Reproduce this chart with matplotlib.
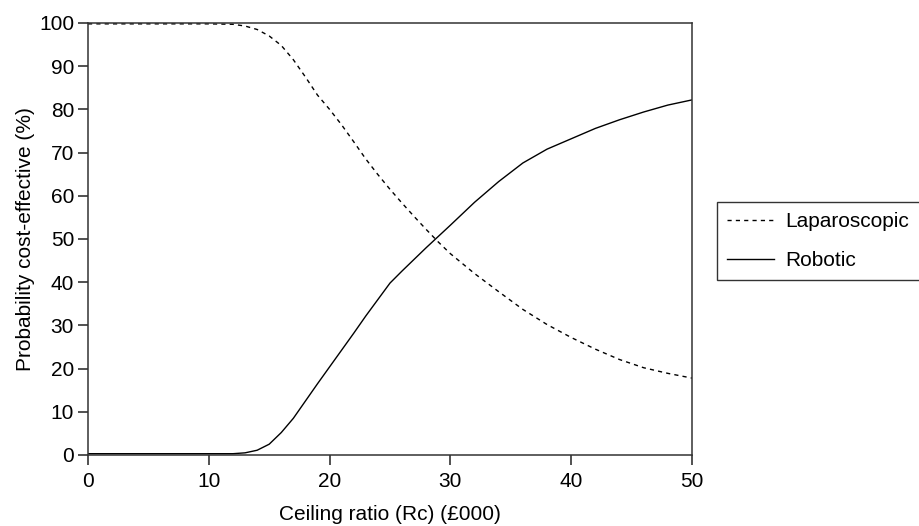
import matplotlib
matplotlib.use("Agg")
import matplotlib.pyplot as plt

# ceiling ratio (£000)
ceiling = [0, 5, 10, 12, 13, 14, 15, 16, 17, 18, 19, 20, 21, 22, 23, 24, 25,
           26, 27, 28, 29, 30, 32, 34, 36, 38, 40, 42, 44, 46, 48, 50]

# probability cost-effective (%)
laparoscopic = [99.8, 99.8, 99.8, 99.7, 99.3, 98.5, 97.0, 94.8, 91.5, 87.5, 83.3,
                80.0, 76.4, 72.5, 68.5, 64.9, 61.5, 58.3, 55.2, 52.2, 49.3, 46.6,
                42.0, 37.8, 33.7, 30.2, 27.2, 24.5, 22.1, 20.2, 18.9, 17.8]
robotic = [0.3, 0.3, 0.3, 0.3, 0.5, 1.1, 2.5, 5.2, 8.5, 12.5, 16.5,
           20.4, 24.3, 28.2, 32.2, 36.0, 39.8, 42.6, 45.3, 48.0, 50.6, 53.2,
           58.5, 63.3, 67.6, 70.8, 73.2, 75.6, 77.6, 79.4, 81.0, 82.2]

xticks = [0, 10, 20, 30, 40, 50]
yticks = list(range(0, 101, 10))

plt.rcParams["font.family"] = ["Liberation Sans", "DejaVu Sans"]

fig = plt.figure(figsize=(9.19, 5.26), dpi=100)
ax = fig.add_axes([88 / 919, 1 - 455 / 526, (692 - 88) / 919, (455 - 23) / 526])

ax.plot(ceiling, laparoscopic, color="black", lw=1.0, dashes=(3, 3), label="Laparoscopic")
ax.plot(ceiling, robotic, color="black", lw=1.0, label="Robotic")

ax.set_xlim(0, 50)
ax.set_ylim(0, 100)
ax.set_xticks(xticks)
ax.set_yticks(yticks)
ax.tick_params(direction="out", length=7, width=1.1, labelsize=15, color="#222222")
ax.tick_params(axis="x", pad=5)
ax.tick_params(axis="y", pad=3)
for sp in ax.spines.values():
    sp.set_linewidth(1.1)
    sp.set_color("#333333")

ax.set_xlabel("Ceiling ratio (Rc) (£000)", fontsize=15, labelpad=10)
ax.set_ylabel("Probability cost-effective (%)", fontsize=15, labelpad=3)

leg = ax.legend(loc="upper left", bbox_to_anchor=(717 / 919, 1 - 202 / 526),
                bbox_transform=fig.transFigure, borderaxespad=0, fontsize=15,
                frameon=True, fancybox=False, edgecolor="black", handlelength=2.25,
                handletextpad=0.53, labelspacing=0.93, borderpad=0.5)
leg.get_frame().set_linewidth(1.0)

fig.savefig("out.png", dpi=100)
